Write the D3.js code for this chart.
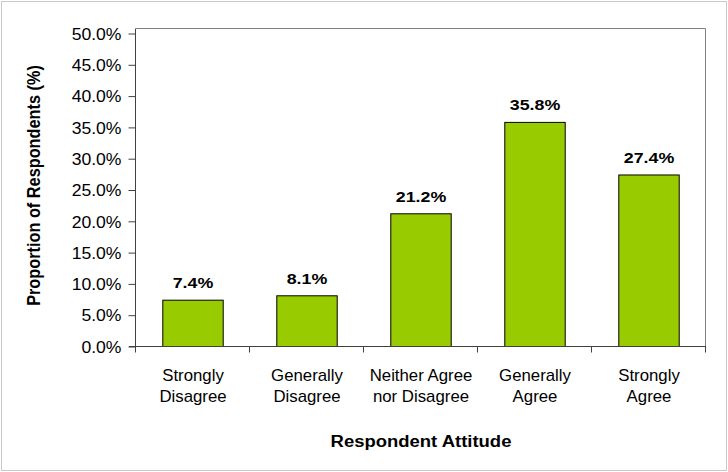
<!DOCTYPE html>
<html>
<head>
<meta charset="utf-8">
<script src="https://cdn.jsdelivr.net/npm/d3@7"></script>
<style>
  body { margin: 0; background: #fff; }
  svg { display: block; font-family: Arial, "Liberation Sans", sans-serif; }
</style>
</head>
<body>
<section></section>
<script>
// datos del grafico
var categorias = [["Strongly", "Disagree"], ["Generally", "Disagree"], ["Neither Agree", "nor Disagree"], ["Generally", "Agree"], ["Strongly", "Agree"]]
var valores = [7.4, 8.1, 21.2, 35.8, 27.4]
var ticksY = [0, 5, 10, 15, 20, 25, 30, 35, 40, 45, 50]

var width = 728
var height = 472
var margin = { top: 28, bottom: 125, left: 136, right: 22 }
var sx = 1.1 // el original esta algo estirado en horizontal

var svg = d3.select("section")
    .append("svg")
    .attr("width", width)
    .attr("height", height)

// marco exterior
svg.append("rect")
    .attr("x", 1.5).attr("y", 1.5)
    .attr("width", width - 3).attr("height", height - 3)
    .attr("fill", "#fff")
    .attr("stroke", "#c8c8c8")

var escalaX = d3.scaleBand()
    .domain(d3.range(categorias.length))
    .range([margin.left, width - margin.right])

var escalaY = d3.scaleLinear()
    .domain([0, 50])
    .range([346.5, 33.5])

var plotTop = margin.top + 0.5
var plotBottom = escalaY(0)

// borde del area de trazado (arriba y derecha)
svg.append("path")
    .attr("d", "M" + margin.left + "," + plotTop + "H" + (width - margin.right - 0.5) + "V" + plotBottom)
    .attr("fill", "none")
    .attr("stroke", "#808080")

// barras
var anchoBarra = escalaX.bandwidth() * 0.53
svg.selectAll("rect.barra")
    .data(valores)
    .enter()
    .append("rect")
    .attr("class", "barra")
    .attr("x", function (d, i) { return escalaX(i) + (escalaX.bandwidth() - anchoBarra) / 2 })
    .attr("y", function (d) { return escalaY(d) })
    .attr("width", anchoBarra)
    .attr("height", function (d) { return escalaY(0) - escalaY(d) })
    .attr("fill", "#99cc00")
    .attr("stroke", "#000")
    .attr("stroke-width", 1)

// eje Y
var ejeY = d3.axisLeft(escalaY)
    .tickValues(ticksY)
    .tickSize(7)
    .tickFormat(function (d) { return d.toFixed(1) + "%" })

var gY = svg.append("g")
    .attr("transform", "translate(" + (margin.left - 0.5) + ",0)")
    .call(ejeY)
gY.select(".domain").attr("stroke", "#404040").attr("d", "M0," + plotTop + "V" + plotBottom)
gY.selectAll(".tick line").attr("stroke", "#404040")
gY.selectAll(".tick text").remove()
gY.selectAll(".tick").append("g")
    .attr("transform", "translate(-14,0) scale(" + sx + ",1)")
    .append("text")
    .attr("text-anchor", "end")
    .attr("dy", "0.36em")
    .attr("font-size", 16)
    .attr("fill", "#000")
    .text(function (d) { return d.toFixed(1) + "%" })

// eje X (ticks entre categorias)
svg.append("line")
    .attr("x1", margin.left - 7).attr("x2", width - margin.right)
    .attr("y1", plotBottom).attr("y2", plotBottom)
    .attr("stroke", "#404040")
var bordes = d3.range(categorias.length + 1)
svg.selectAll("line.tickx")
    .data(bordes)
    .enter()
    .append("line")
    .attr("class", "tickx")
    .attr("x1", function (d) { return d < categorias.length ? escalaX(d) - 0.5 : escalaX(d - 1) + escalaX.bandwidth() - 0.5 })
    .attr("x2", function (d) { return d < categorias.length ? escalaX(d) - 0.5 : escalaX(d - 1) + escalaX.bandwidth() - 0.5 })
    .attr("y1", plotBottom).attr("y2", plotBottom + 6)
    .attr("stroke", "#404040")

// etiquetas de categoria
var etiq = svg.selectAll("g.cat")
    .data(categorias)
    .enter()
    .append("g")
    .attr("class", "cat")
    .attr("transform", function (d, i) { return "translate(" + (escalaX(i) + escalaX.bandwidth() / 2) + ",381) scale(1.05,1)" })
etiq.selectAll("text")
    .data(function (d) { return d })
    .enter()
    .append("text")
    .attr("text-anchor", "middle")
    .attr("y", function (d, j) { return j * 21 })
    .attr("font-size", 16)
    .text(function (d) { return d })

// valores sobre las barras
svg.selectAll("g.valor")
    .data(valores)
    .enter()
    .append("g")
    .attr("class", "valor")
    .attr("transform", function (d, i) { return "translate(" + (escalaX(i) + escalaX.bandwidth() / 2) + "," + (escalaY(d) - 12) + ") scale(1.15,1)" })
    .append("text")
    .attr("text-anchor", "middle")
    .attr("font-size", 15.5)
    .attr("font-weight", "bold")
    .text(function (d) { return d.toFixed(1) + "%" })

// titulos de ejes
svg.append("g")
    .attr("transform", "translate(" + ((margin.left + width - margin.right) / 2) + ",447) scale(1.1,1)")
    .append("text")
    .attr("text-anchor", "middle")
    .attr("font-size", 16.8)
    .attr("font-weight", "bold")
    .text("Respondent Attitude")

svg.append("g")
    .attr("transform", "translate(39.5," + ((plotTop + plotBottom) / 2 - 2) + ") scale(1.1,1) rotate(-90)")
    .append("text")
    .attr("text-anchor", "middle")
    .attr("font-size", 16.3)
    .attr("font-weight", "bold")
    .text("Proportion of Respondents (%)")
</script>
</body>
</html>
